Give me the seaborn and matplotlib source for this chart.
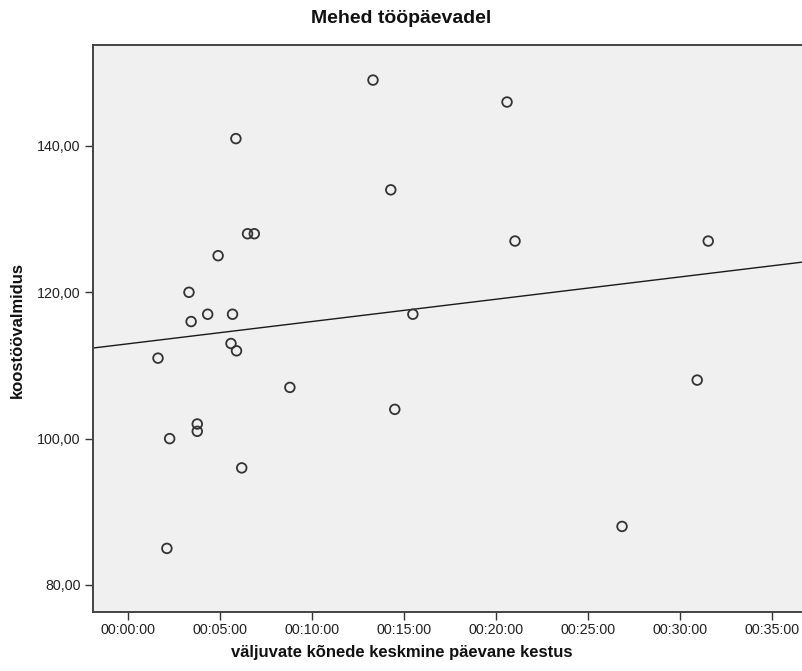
import matplotlib
matplotlib.use("Agg")
import matplotlib.pyplot as plt
import matplotlib.ticker as ticker
import seaborn as sns
import pandas as pd

# data (x in seconds)
kestus_sek = [97, 135, 126, 198, 205, 225, 225, 259, 293, 335, 340, 351, 353,
              370, 389, 411, 527, 798, 856, 869, 928, 1235, 1261, 1610, 1855, 1891]
valmidus = [111, 100, 85, 120, 116, 102, 101, 117, 125, 113, 117, 141, 112,
            96, 128, 128, 107, 149, 134, 104, 117, 146, 127, 88, 108, 127]
x_ticks = [0, 300, 600, 900, 1200, 1500, 1800, 2100]
y_ticks = [80, 100, 120, 140]

df = pd.DataFrame({"kestus": kestus_sek, "valmidus": valmidus})

sns.set_theme(style="ticks")
plt.rcParams["font.family"] = ["Liberation Sans", "DejaVu Sans"]

fig = plt.figure(figsize=(8.03, 6.71), dpi=100)
ax = fig.add_axes([0.1154, 0.0884, 0.8846, 0.8446])
ax.set_facecolor("#f0f0f0")

ax.set_xlim(-116, 2200)
ax.set_ylim(76.35, 153.8)

# fit line drawn across the whole axis
sns.regplot(data=df, x="kestus", y="valmidus", scatter=False, ci=None,
            truncate=False, ax=ax, line_kws={"color": "#1a1a1a", "lw": 1.0})
sns.scatterplot(data=df, x="kestus", y="valmidus", ax=ax, s=48,
                facecolor="none", edgecolor="#333333", linewidth=1.3, zorder=3)

ax.set_xlim(-116, 2200)
ax.set_ylim(76.35, 153.8)

def hms(v, pos):
    v = int(round(v))
    return f"{v // 3600:02d}:{(v % 3600) // 60:02d}:{v % 60:02d}"

ax.set_xticks(x_ticks)
ax.set_yticks(y_ticks)
ax.xaxis.set_major_formatter(ticker.FuncFormatter(hms))
ax.yaxis.set_major_formatter(ticker.FuncFormatter(lambda v, pos: f"{v:.2f}".replace(".", ",")))
ax.tick_params(axis="both", direction="out", length=5.5, width=1, color="#333333",
               labelsize=10.3, labelcolor="#222222", pad=3)

for side in ["top", "right", "left", "bottom"]:
    ax.spines[side].set_color("#444444")
    ax.spines[side].set_linewidth(1.4)

ax.set_xlabel("")
ax.set_ylabel("")
fig.text(0.5, 0.973, "Mehed tööpäevadel", ha="center", va="center",
         fontsize=14, fontweight="bold", color="#111111")
fig.text(0.5, 0.028, "väljuvate kõnede keskmine päevane kestus", ha="center",
         va="center", fontsize=12, fontweight="bold", color="#111111")
fig.text(0.022, 0.508, "koostöövalmidus", ha="center", va="center", rotation=90,
         fontsize=12, fontweight="bold", color="#111111")

fig.savefig("out.png", dpi=100, facecolor="white")
